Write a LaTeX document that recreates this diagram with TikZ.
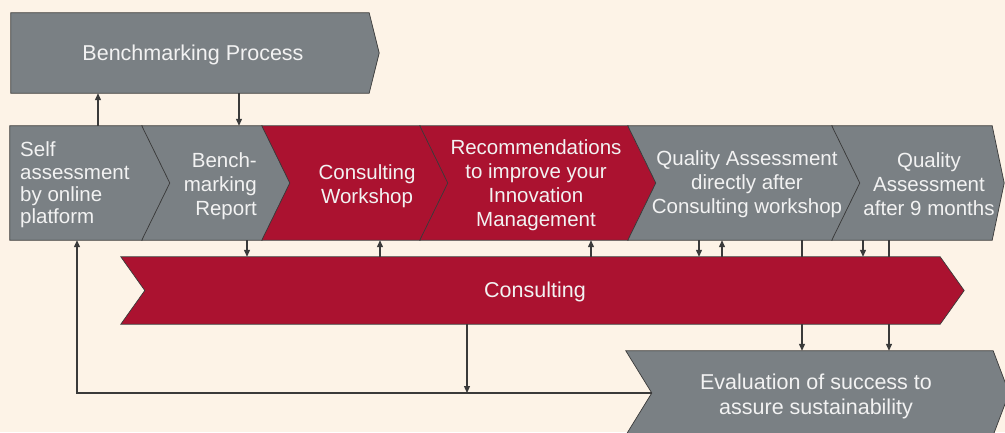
\documentclass[tikz,border=0pt]{standalone}
\usepackage{fontspec}
\setmainfont{Liberation Sans}
\usetikzlibrary{arrows.meta,calc,positioning}

\definecolor{paper}{HTML}{FDF3E7}
\definecolor{stepgray}{HTML}{7A8084}
\definecolor{stepred}{HTML}{AB1230}
\definecolor{wire}{HTML}{3A3A3A}
\definecolor{txtlight}{HTML}{F2F2F2}

\begin{document}
\begin{tikzpicture}[x=1pt, y=-1pt]
  \tikzset{body/.style = {rectangle, inner sep=0pt, minimum height=114},
    txt/.style   = {inner sep=0pt, text=txtlight, align=center,
                    font=\fontsize{20.5}{24}\selectfont},
    bigtxt/.style = {txt, font=\fontsize{21.5}{25}\selectfont},
    chev/.style  = {draw=wire, line width=0.7pt},
    wireline/.style = {draw=wire, line width=1.2pt},
    arr/.style   = {wireline, -{Triangle[length=7pt,width=6pt]}}}
  \useasboundingbox (0,0) rectangle (1005,432);
  \clip (0,0) rectangle (1005,432);
  \fill[paper] (0,0) rectangle (1005,432);

  \node[body, minimum width=358, minimum height=80] (bench) at (190,53) {};
  \node[body, minimum width=132] (selfassess) at (76,183) {};
  \node[body, minimum width=120] (report) at (202,183) {};
  \node[body, minimum width=158] (workshop) at (341,183) {};
  \node[body, minimum width=208] (recom) at (524,183) {};
  \node[body, minimum width=204] (qadirect) at (730,183) {};
  \node[body, minimum width=160] (qalate) at (912,183) {};
  \node[body, minimum width=819, minimum height=67] (consult) at (530.5,290.5) {};
  \node[body, minimum width=367, minimum height=84] (evalbox) at (809.5,393) {};

  \foreach \n/\col/\dl/\dr in {bench/stepgray/0/10, selfassess/stepgray/0/28,
      report/stepgray/28/28, workshop/stepred/28/28, recom/stepred/28/28,
      qadirect/stepgray/28/28, qalate/stepgray/28/12, consult/stepred/24/24,
      evalbox/stepgray/26/16}
    \filldraw[chev, fill=\col] (\n.north west) -- (\n.north east)
      -- ($(\n.east)+(\dr,0)$) -- (\n.south east) -- (\n.south west)
      -- ($(\n.west)+(\dl,0)$) -- cycle;

  \node[bigtxt] (bench-t) at (193,55) {Benchmarking Process};
  \node[txt, align=left, anchor=west, font=\fontsize{20.5}{22.4}\selectfont]
    (selfassess-t) at (20,185) {Self\\assessment\\by online\\platform};
  \node[txt, align=right, anchor=east] (report-t) at (257,186) {Bench-\\marking\\Report};
  \node[txt] (workshop-t) at (367,186) {Consulting\\Workshop};
  \node[txt] (recom-t) at (536,185) {Recommendations\\to improve your\\Innovation\\Management};
  \node[txt] (qadirect-t) at (747,184.5) {Quality Assessment\\directly after\\Consulting workshop};
  \node[txt] (qalate-t) at (929,184.5) {Quality\\Assessment\\after 9 months};
  \node[bigtxt] (consult-t) at (535,292) {Consulting};
  \node[bigtxt] (evalbox-t) at (816,396) {Evaluation of success to\\assure sustainability};

  \foreach \x/\src/\dst in {98/selfassess.north/bench.south,
      239/bench.south/report.north, 247/report.south/consult.north,
      380/consult.north/workshop.south, 591/consult.north/recom.south,
      699/qadirect.south/consult.north, 722/consult.north/qadirect.south,
      863/qalate.south/consult.north, 802/consult.south/evalbox.north,
      889/consult.south/evalbox.north} {
    \coordinate (tap) at (\x,0);
    \draw[arr] (\src -| tap) -- (\dst -| tap);
  }
  \foreach \x/\src in {802/qadirect, 889/qalate} {
    \coordinate (tap) at (\x,0);
    \draw[wireline] (\src.south -| tap) -- (consult.north -| tap);
  }

  \coordinate (evalin) at ($(evalbox.west)+(26,0)$);
  \coordinate (loopx) at (77,0);
  \coordinate (dropx) at (467,0);
  \draw[arr] (evalin) -| (selfassess.south -| loopx);
  \draw[arr] (consult.south -| dropx) -- (evalin -| dropx);
\end{tikzpicture}
\end{document}
